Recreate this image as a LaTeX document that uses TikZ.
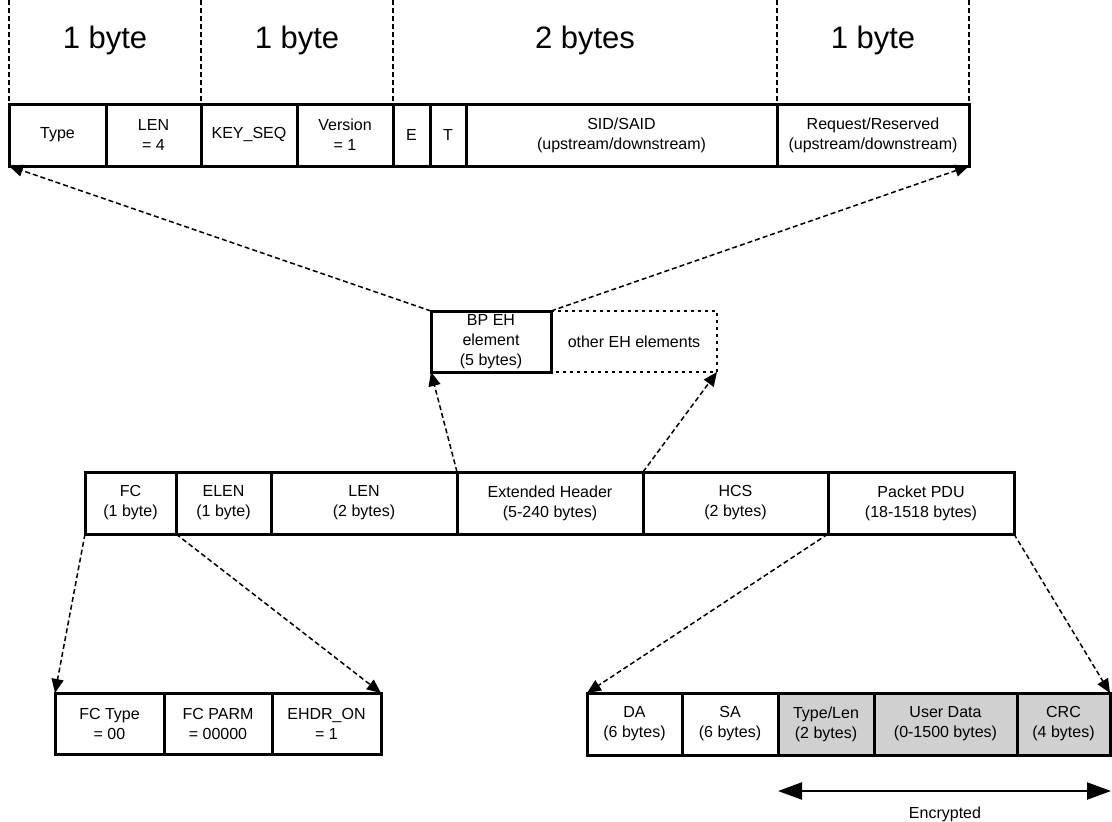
\documentclass[tikz,border=0pt]{standalone}
\usepackage{fontspec}
\setmainfont{Liberation Sans}
\usetikzlibrary{arrows.meta}
\definecolor{encgray}{RGB}{208,208,208}
\begin{document}
\begin{tikzpicture}[x=1pt,y=-1pt,
  cell/.style={draw, line width=3pt, minimum height=62pt, inner sep=0pt, outer sep=0pt,
               align=center, font=\fontsize{16}{20}\selectfont},
  enc/.style={cell, fill=encgray},
  bigtxt/.style={font=\fontsize{31}{37}\selectfont, inner sep=0pt},
  smalltxt/.style={font=\fontsize{16}{20}\selectfont, inner sep=0pt},
  link/.style={line width=1.5pt, dash pattern=on 5pt off 3pt, -{Triangle[length=14pt,width=12pt]}},
  vline/.style={line width=1.5pt, dash pattern=on 5pt off 3pt},
  dotbox/.style={line width=2.2pt, dash pattern=on 3pt off 4pt},
  encarrow/.style={line width=2.2pt, {Triangle[length=24pt,width=17pt]}-{Triangle[length=24pt,width=17pt]}}
]
\useasboundingbox (0,0) rectangle (1112,822);

% ---- top row ----
\node[cell, minimum width=97pt]  (type) at (57.5,135) {Type};
\node[cell, minimum width=95pt]  (len4) at (153.5,135) {LEN\\= 4};
\node[cell, minimum width=96pt]  (key)  at (249,135) {KEY\_SEQ};
\node[cell, minimum width=96pt]  (ver)  at (345,135) {Version\\= 1};
\node[cell, minimum width=37pt]  (e)    at (411.5,135) {E};
\node[cell, minimum width=36pt]  (t)    at (448,135) {T};
\node[cell, minimum width=311pt] (sid)  at (621.5,135) {SID/SAID\\(upstream/downstream)};
\node[cell, minimum width=192pt] (req)  at (873,135) {Request/Reserved\\(upstream/downstream)};

\node[bigtxt] (b1) at (105,40) {1 byte};
\node[bigtxt] (b2) at (297,40) {1 byte};
\node[bigtxt] (b3) at (585,40) {2 bytes};
\node[bigtxt] (b4) at (873,40) {1 byte};

\coordinate (v1) at (9,0);
\coordinate (v2) at (201,0);
\coordinate (v3) at (393,0);
\coordinate (v4) at (777,0);
\coordinate (v5) at (969,0);
\draw[vline] (v1) -- (type.north west);
\draw[vline] (v2) -- (key.north west);
\draw[vline] (v3) -- (e.north west);
\draw[vline] (v4) -- (req.north west);
\draw[vline] (v5) -- (req.north east);

% ---- BP EH ----
\node[cell, minimum width=120pt, minimum height=61pt] (bp) at (491,341.5) {BP EH\\element\\(5 bytes)};
\node[smalltxt, minimum width=166pt, minimum height=61pt, outer sep=0pt] (other) at (634,341.5) {other EH elements};
\draw[dotbox] (bp.north east) -- (other.north east) -- (other.south east) -- (bp.south east);

\draw[link] (bp.north west) -- (type.south west);
\draw[link] (bp.north east) -- (req.south east);

% ---- middle row ----
\node[cell, minimum width=91pt]  (fc)   at (130.5,503) {FC\\(1 byte)};
\node[cell, minimum width=95pt]  (elen) at (223.5,503) {ELEN\\(1 byte)};
\node[cell, minimum width=186pt] (len)  at (364,503) {LEN\\(2 bytes)};
\node[cell, minimum width=186pt] (ext)  at (550,503) {Extended Header\\(5-240 bytes)};
\node[cell, minimum width=185pt] (hcs)  at (735.5,503) {HCS\\(2 bytes)};
\node[cell, minimum width=186pt] (pdu)  at (921,503) {Packet PDU\\(18-1518 bytes)};

\draw[link] (ext.north west) -- (bp.south west);
\draw[link] (hcs.north west) -- (other.south east);

% ---- bottom left ----
\node[cell, minimum width=109pt, minimum height=61pt] (fct)  at (109.5,723.5) {FC Type\\= 00};
\node[cell, minimum width=108pt, minimum height=61pt] (fcp)  at (218,723.5) {FC PARM\\= 00000};
\node[cell, minimum width=109pt, minimum height=61pt] (ehdr) at (326.5,723.5) {EHDR\_ON\\= 1};

\draw[link] (fc.south west) -- (fct.north west);
\draw[link] (elen.south west) -- (ehdr.north east);

% ---- bottom right ----
\node[cell, minimum width=95pt,  minimum height=62pt] (da)   at (634.5,724) {DA\\(6 bytes)};
\node[cell, minimum width=96pt,  minimum height=62pt] (sa)   at (730,724) {SA\\(6 bytes)};
\node[enc,  minimum width=96pt,  minimum height=62pt] (tlen) at (826,724) {Type/Len\\(2 bytes)};
\node[enc,  minimum width=143pt, minimum height=62pt] (ud)   at (945.5,724) {User Data\\(0-1500 bytes)};
\node[enc,  minimum width=93pt,  minimum height=62pt] (crc)  at (1063.5,724) {CRC\\(4 bytes)};

\draw[link] (pdu.south west) -- (da.north west);
\draw[link] (pdu.south east) -- (crc.north east);

% ---- encrypted ----
\coordinate (encL) at (778,791);
\coordinate (encR) at (1111,791);
\draw[encarrow] (encL) -- (encR);
\node[smalltxt] (enctxt) at (945,814) {Encrypted};
\end{tikzpicture}
\end{document}
